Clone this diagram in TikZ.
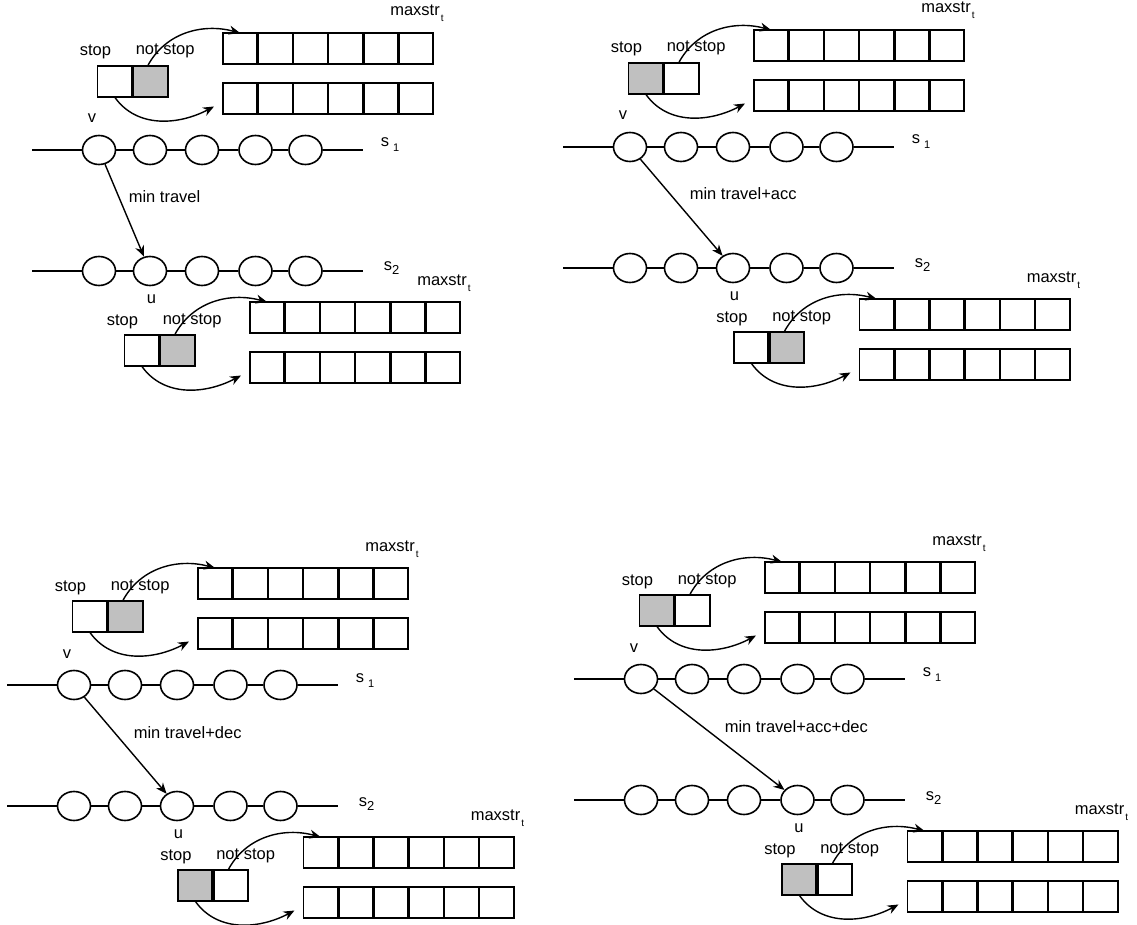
\documentclass[tikz,border=0pt]{standalone}
\usepackage{fontspec}
\setmainfont{Liberation Sans}
\usetikzlibrary{arrows.meta, positioning, shapes.geometric}
\definecolor{boxgray}{RGB}{192,192,192}

% stop / not stop boxes and the two arrays they point to
\newcommand{\stopgroup}[4]{%
\begin{scope}[shift={#2}, name prefix=#1-]
  \node[cell, fill=#3] (stop) at (17.1,15.5) {};
  \node[cell, fill=#4, right=1.8pt of stop] (go) {};
  \node[lbl] (stoplab) at (-18.5,-10) {stop};
  \node[lbl] (golab) at (37.5,-11) {not stop};
  \node[cell] (a1) at (142.6,-17.5) {};
  \node[cell] (b1) at (142.6,32.5) {};
  \foreach \i [remember=\i as \j (initially 1)] in {2,...,6} {
    \node[cell, right=1pt of a\j] (a\i) {};
    \node[cell, right=1pt of b\j] (b\i) {};
  }
  \node[lbl] (maxlab) at (292,-50) {maxstr\kern1pt\raisebox{-6pt}{\fontsize{10}{10}\selectfont t}};
  \draw[arr] ([xshift=-3pt]go.north) to[out=62, in=165] (a1.north);
  \draw[arr] (stop.south) to[out=-55, in=208] ([shift={(-9,8)}]b1.west);
\end{scope}}

\begin{document}
\begin{tikzpicture}[
    x=1pt, y=-1pt,
    line width=1.6pt,
    font=\fontsize{16.5}{20}\selectfont,
    stn/.style={ellipse, draw, fill=white, minimum width=33pt, minimum height=29pt, inner sep=0pt},
    cell/.style={rectangle, draw, minimum width=34.2pt, minimum height=31pt, inner sep=0pt, outer sep=0pt},
    lbl/.style={anchor=base west, inner sep=0pt},
    arr/.style={-{Stealth[length=11pt, width=9pt]}, line width=1.4pt}
]
\useasboundingbox (0,0) rectangle (1137,925);

\foreach \p/\vx/\vy/\ui/\dx/\ua/\ub/\la/\lb/\lx/\lab in {
    a/99/150/2/27/white/boxgray/white/boxgray/29/min travel,
    b/630/147/3/105.5/boxgray/white/white/boxgray/59/min travel+acc,
    c/74/685/3/105.5/white/boxgray/boxgray/white/59/min travel+dec,
    d/641/679/4/142.5/boxgray/white/boxgray/white/83/min travel+acc+dec} {
\begin{scope}[shift={(\vx,\vy)}, name prefix=\p-]
  % the two stations s1 and s2
  \foreach \s/\y in {1/0, 2/121} {
    \coordinate (s\s-l) at (-67,\y);
    \coordinate (s\s-r) at (264,\y);
    \foreach \i/\x in {1/0, 2/51, 3/103, 4/156.5, 5/206.5}
      \node[stn] (s\s-\i) at (\x,\y) {};
    \draw (s\s-l) -- (s\s-1) -- (s\s-2) -- (s\s-3) -- (s\s-4) -- (s\s-5) -- (s\s-r);
  }
  \node[lbl] (v) at (-12,-27) {v};
  \node[lbl] (u) at ([shift={(-4,32)}]s2-\ui.center) {u};
  \node[lbl] (s1lab) at (281,-3) {s\kern4pt\raisebox{-5pt}{\fontsize{11}{11}\selectfont 1}};
  \node[lbl] (s2lab) at (284,121) {s\raisebox{-4pt}{\fontsize{13}{13}\selectfont 2}};
  \draw[arr] (s1-1) -- (s2-\ui);
  \node[lbl] (move) at (\lx,53) {\lab};
  \stopgroup{\p-up}{(-1.5,-84)}{\ua}{\ub}
  \stopgroup{\p-lo}{(\dx-1.5,185)}{\la}{\lb}
\end{scope}
}
\end{tikzpicture}
\end{document}
